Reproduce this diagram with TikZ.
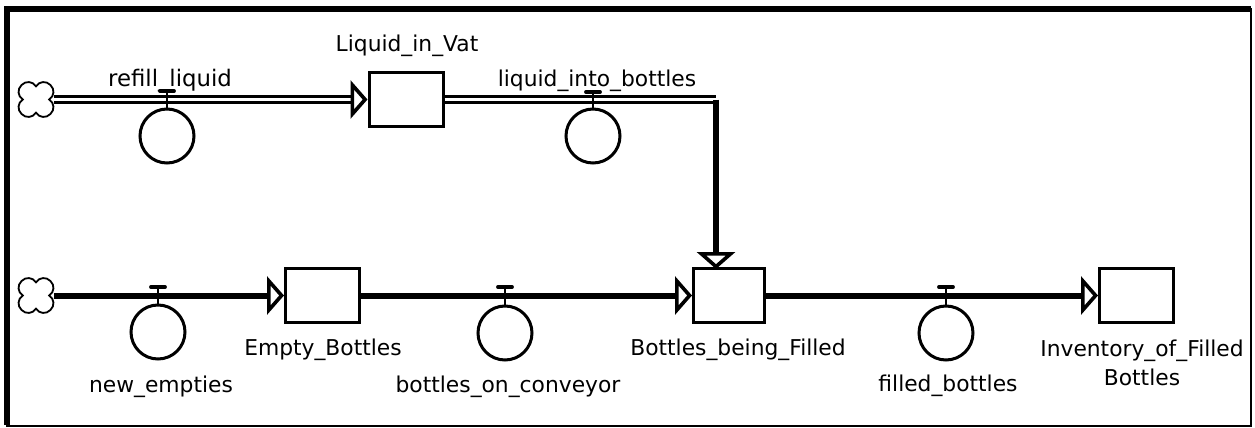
\documentclass[tikz,border=0pt]{standalone}
\usepackage{fontspec}
\setmainfont{DejaVu Sans}
\usetikzlibrary{arrows.meta, shapes.symbols}
\tikzset{
    stockbox/.style={draw, line width=1.5pt, fill=white, minimum width=37pt, minimum height=27pt, inner sep=0pt},
    valvering/.style={draw, circle, line width=1.5pt, fill=white, minimum size=27pt, inner sep=0pt},
    sourcecloud/.style={draw, cloud, cloud puffs=4, cloud puff arc=200, aspect=1, rotate=45, line width=0.9pt, fill=white, minimum size=20.5pt, inner sep=0pt},
    namelabel/.style={font=\fontsize{10.9}{14.5}\selectfont, inner sep=0pt, align=center},
    flowtip/.style={-{Triangle[open, length=8.5pt, width=19pt, line width=1.8pt]}},
    solidflow/.style={line width=3pt},
    doubleflow/.style={line width=1.5pt, double=white, double distance=1.1pt}
}
\begin{document}
\begin{tikzpicture}[x=0.5pt, y=-0.5pt]
    \useasboundingbox (0,0) rectangle (1255,428);

    % Frame
    \draw[line width=1pt] (7,9) rectangle (1251,425.5);
    \draw[line width=3pt] (7,425) -- (7,9) -- (1251,9);

    % Clouds and stocks
    \node[sourcecloud] (cloudLiquid) at (36,99.5) {};
    \node[sourcecloud] (cloudEmpties) at (36,295.5) {};
    \node[stockbox] (vat) at (406,99.5) {};
    \node[stockbox] (empty) at (322.5,295.5) {};
    \node[stockbox, minimum width=35.5pt] (filling) at (729,295.5) {};
    \node[stockbox] (inventory) at (1136.5,295.5) {};

    % Bend of the liquid pipe
    \coordinate (pipeBend) at (716,99.5);
    \coordinate (pipeEnd) at (716,269);

    % Flows
    \draw[doubleflow, flowtip] (cloudLiquid.center) ++(18,0) -- (vat.west);
    \draw[doubleflow] (vat.east) -- (pipeBend);
    \draw[solidflow, flowtip] (pipeBend) -- (pipeEnd);
    \draw[solidflow, flowtip] (cloudEmpties.center) ++(18,0) -- (empty.west);
    \draw[solidflow, flowtip] (empty.east) -- (filling.west);
    \draw[solidflow, flowtip] (filling.east) -- (inventory.west);

    % Valves
    \foreach \vname/\vx/\vy/\tapy in {
        refill/167/136/91,
        into/593/136/92,
        news/158/332/287,
        conveyor/505/333/287,
        filled/946/333/287
    } {
        \node[valvering] (\vname) at (\vx,\vy) {};
        \coordinate (\vname Tap) at (\vx,\tapy);
        \draw[line width=1.1pt] (\vname.north) -- (\vname Tap);
        \draw[line width=1.7pt, line cap=round] ([xshift=-3.6pt]\vname Tap) -- ([xshift=3.6pt]\vname Tap);
    }

    % Labels
    \node[namelabel] (vatLabel) at (407,46) {Liquid\_in\_Vat};
    \node[namelabel, font=\fontsize{11.4}{14}\selectfont] (refillLabel) at (170,81) {refill\_liquid};
    \node[namelabel] (intoLabel) at (597,81) {liquid\_into\_bottles};
    \node[namelabel] (emptyLabel) at (323,350) {Empty\_Bottles};
    \node[namelabel] (fillingLabel) at (738,350) {Bottles\_being\_Filled};
    \node[namelabel] (newsLabel) at (161,387) {new\_empties};
    \node[namelabel] (conveyorLabel) at (508,387) {bottles\_on\_conveyor};
    \node[namelabel] (filledLabel) at (948,386) {filled\_bottles};
    \node[namelabel, anchor=north] (inventoryLabel) at (1142,340) {Inventory\_of\_Filled\\Bottles};
\end{tikzpicture}
\end{document}
